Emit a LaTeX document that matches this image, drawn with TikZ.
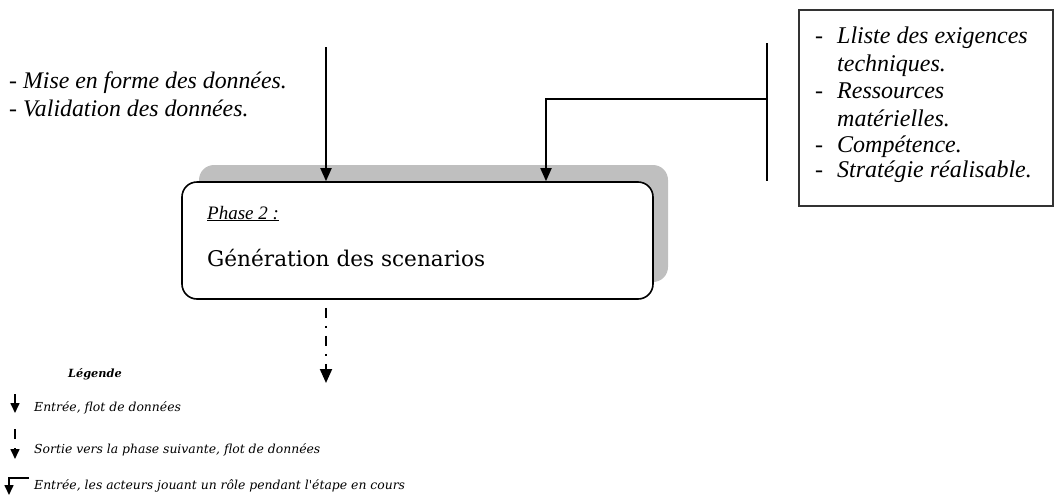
\documentclass[tikz,border=0pt]{standalone}
\usepackage{fontspec}
\setmainfont{Liberation Serif}
\newfontfamily\schol{DejaVu Serif}
\usetikzlibrary{arrows.meta}
\begin{document}
\begin{tikzpicture}[x=1pt,y=-1pt,
  arr/.style={line width=1.8pt,-{Triangle[width=11pt,length=13pt]}},
  smallarr/.style={line width=1.6pt,-{Triangle[width=9pt,length=10pt]}},
  txt/.style={inner sep=0pt,anchor=base west,font=\fontsize{23.8}{27}\selectfont\itshape},
  leg/.style={inner sep=0pt,anchor=base west,font=\schol\fontsize{12.4}{14}\selectfont\itshape}]
\useasboundingbox (0,0) rectangle (1055,501);
% shadow and box
\fill[gray!50,rounded corners=15pt] (199,165) rectangle (668,282);
\node[draw,line width=1.6pt,rounded corners=15pt,fill=white,minimum width=471pt,minimum height=117pt,inner sep=0pt] (box) at (417.5,240.5) {};
\node[inner sep=0pt,anchor=base west,font=\fontsize{19}{22}\selectfont\itshape] (ph) at (207,219) {\underline{Phase 2 :}};
\node[inner sep=0pt,anchor=base west,font=\schol\fontsize{21.6}{24}\selectfont] (gen) at (207,266) {Génération des scenarios};
% top-left text
\node[txt] (t1) at (9,88) {- Mise en forme des données.};
\node[txt] (t2) at (9,116) {- Validation des données.};
% arrow 1
\coordinate (a1) at (326,47);
\draw[arr] (a1) -- (a1 |- box.north);
% right box
\node[draw,line width=1.2pt,draw=black!80,minimum width=254pt,minimum height=196pt,inner sep=0pt] (rb) at (926,108) {};
\begin{scope}[every node/.style={inner sep=0pt,anchor=base west,font=\fontsize{24}{28}\selectfont}]
\node (r1) at (815,43) {\makebox[22pt][l]{-}\itshape Lliste des exigences};
\node (r2) at (837,71) {\itshape techniques.};
\node (r3) at (815,98) {\makebox[22pt][l]{-}\itshape Ressources};
\node (r4) at (837,126) {\itshape matérielles.};
\node (r5) at (815,152) {\makebox[22pt][l]{-}\itshape Compétence.};
\node (r6) at (815,177) {\makebox[22pt][l]{-}\itshape Stratégie réalisable.};
\end{scope}
% bracket and arrow 2
\coordinate (bt) at (767,43);
\coordinate (bb) at (767,181);
\coordinate (bm) at (767,99);
\draw[line width=1.2pt] (bt) -- (bb);
\draw[arr] (bm) -| (546,0 |- box.north);
% output dash-dot arrow
\coordinate (out) at (326,383);
\draw[line width=2pt,dash pattern=on 10pt off 8pt on 2pt off 8pt,dash phase=20pt,-{Triangle[width=12pt,length=14pt]}] (box.south -| out) -- (out);
% legend
\node[inner sep=0pt,anchor=base west,font=\schol\fontsize{11.3}{12}\selectfont\bfseries\itshape] (lg) at (68,377) {Légende};
\coordinate (l1t) at (15,394);
\coordinate (l1b) at (15,413);
\draw[smallarr] (l1t) -- (l1b);
\node[leg] (lt1) at (34,411) {Entrée, flot de données};
\coordinate (l2t) at (15,429);
\coordinate (l2b) at (15,459);
\draw[line width=1.6pt,dash pattern=on 10pt off 9pt,-{Triangle[width=9pt,length=10pt]}] (l2t) -- (l2b);
\node[leg] (lt2) at (34,453) {Sortie vers la phase suivante, flot de données};
\coordinate (l3s) at (29,478);
\coordinate (l3e) at (9,495);
\draw[smallarr] (l3s) -| (l3e);
\node[leg] (lt3) at (34,489) {Entrée, les acteurs jouant un rôle pendant l'étape en cours};
\end{tikzpicture}
\end{document}
